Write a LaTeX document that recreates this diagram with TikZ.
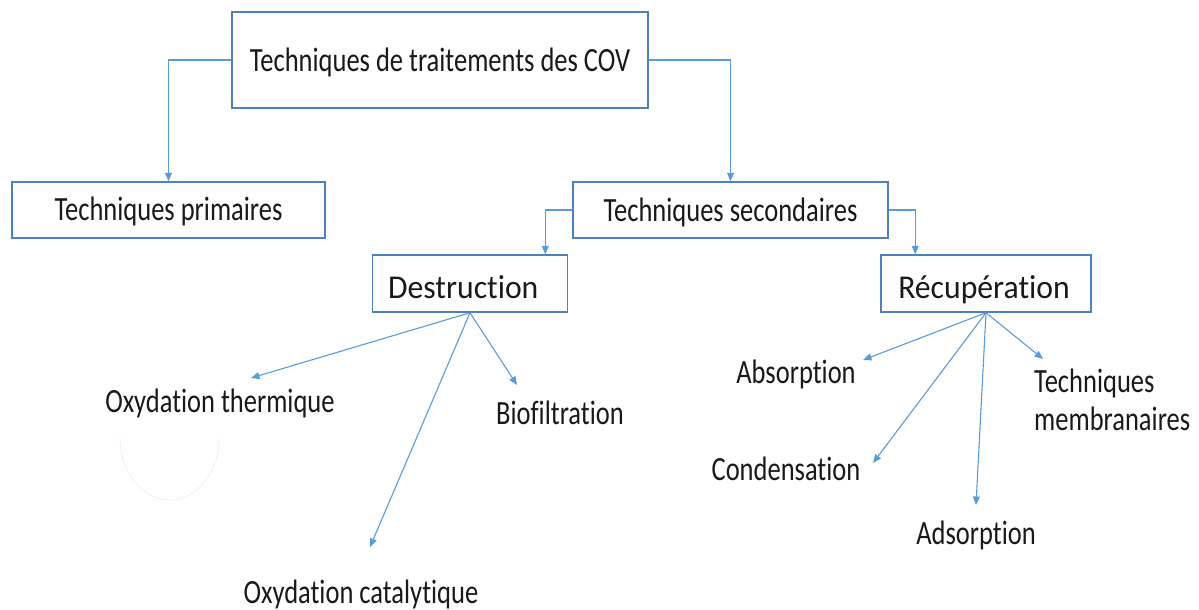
\documentclass[tikz,border=0pt]{standalone}
\usepackage{graphicx}
\usepackage{fontspec}
\setmainfont[Ligatures=NoCommon]{Carlito}
\usetikzlibrary{arrows.meta}
\definecolor{boxblue}{RGB}{79,129,189}
\definecolor{linkblue}{RGB}{91,155,213}
\definecolor{inkc}{RGB}{25,25,25}
\newcommand{\stx}[1]{\scalebox{1}[1.28]{#1}}
\newcommand{\stxw}[1]{\scalebox{1}[1.05]{#1}}
\tikzset{
  box/.style={draw=boxblue, line width=1.5pt, fill=white, inner sep=0pt, text=inkc,
    text depth=6pt, font=\fontsize{26.5}{29.7}\selectfont},
  bigbox/.style={box, font=\fontsize{31.7}{36}\selectfont},
  lbl/.style={inner sep=0pt, anchor=base, text=inkc, font=\fontsize{26.5}{29.7}\selectfont},
  link/.style={draw=linkblue, line width=1.1pt, -{Triangle[length=8.5pt,width=7pt]}},
}
\begin{document}
\begin{tikzpicture}[x=1pt,y=-1pt]
\useasboundingbox (0,0) rectangle (1199,610);
% boxes
\node[box, text height=28pt, minimum width=416pt, minimum height=96pt] (top) at (440,60) {\stx{Techniques de traitements des COV}};
\node[box, text height=26pt, minimum width=313pt, minimum height=56pt] (prim) at (168.5,210) {\stx{Techniques primaires}};
\node[box, text height=28pt, minimum width=315pt, minimum height=56pt] (sec) at (730.5,210) {\stx{Techniques secondaires}};
\node[bigbox, text height=35pt, minimum width=195pt, minimum height=57pt] (dest) at (470,283.5) {\stxw{Destruction}\hspace*{13.5pt}};
\node[bigbox, text height=35pt, minimum width=210pt, minimum height=57pt] (rec) at (986,283.5) {\stxw{Récupération}\hspace*{4pt}};
% leaf labels
\node[lbl] (ot) at (220,412) {\stx{Oxydation thermique}};
\node[lbl] (bio) at (560,424) {\stx{Biofiltration}};
\node[lbl] (oc) at (361,603) {\stx{Oxydation catalytique}};
\node[lbl] (abs) at (796,383) {\stx{Absorption}};
\node[lbl] (cond) at (786,480) {\stx{Condensation}};
\node[lbl] (ads) at (976,544) {\stx{Adsorption}};
\node[lbl, anchor=base west] (tm) at (1034,392) {\stx{\begin{tabular}[t]{@{}l@{}}Techniques\\membranaires\end{tabular}}};
% arrow tips
\coordinate (otTip) at (251,378);
\coordinate (bioTip) at (517,385);
\coordinate (ocTip) at (370,547);
\coordinate (absTip) at (863,360);
\coordinate (condTip) at (873,463);
\coordinate (adsTip) at (976,505);
\coordinate (tmTip) at (1043,359);
% connectors
\draw[link] (top.west) -| (prim.north);
\draw[link] (top.east) -| (sec.north);
\draw[link] (sec.west) -| ([xshift=-23pt]dest.north east);
\draw[link] (sec.east) -| ([xshift=35pt]rec.north west);
\draw[link] (dest.south) -- (otTip);
\draw[link] (dest.south) -- (bioTip);
\draw[link] (dest.south) -- (ocTip);
\draw[link] (rec.south) -- (absTip);
\draw[link] (rec.south) -- (condTip);
\draw[link] (rec.south) -- (adsTip);
\draw[link] (rec.south) -- (tmTip);
% faint stray arc
\draw[draw=black!6, line width=0.8pt] (120,438) arc[start angle=180, end angle=0, x radius=49.5, y radius=62];
\end{tikzpicture}
\end{document}
